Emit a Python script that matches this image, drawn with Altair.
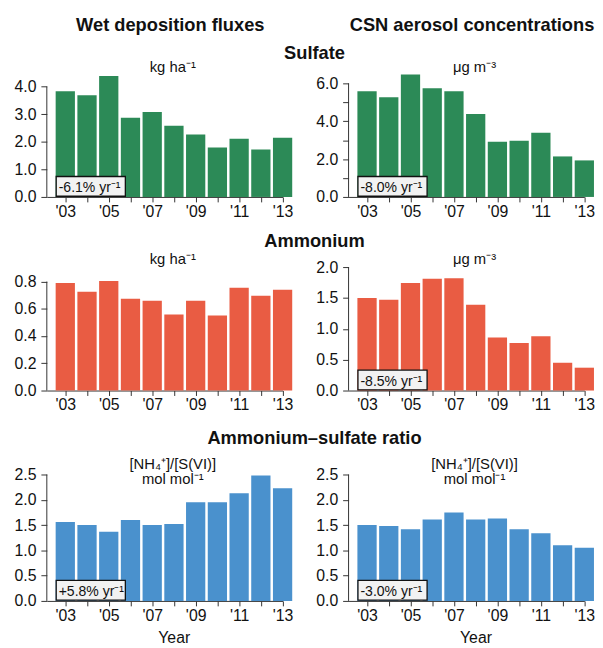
import json
import altair as alt
import pandas as pd

# ---------------- data ----------------
years = list(range(2003, 2014))
x_labels = ["'03", "", "'05", "", "'07", "", "'09", "", "'11", "", "'13"]

sulfate_wet = [3.83, 3.69, 4.38, 2.87, 3.08, 2.58, 2.26, 1.79, 2.11, 1.72, 2.15]
sulfate_csn = [5.58, 5.27, 6.47, 5.74, 5.58, 4.38, 2.92, 2.97, 3.39, 2.14, 1.93]
ammonium_wet = [0.790, 0.725, 0.805, 0.674, 0.660, 0.558, 0.660, 0.551, 0.754, 0.696, 0.740]
ammonium_csn = [1.50, 1.47, 1.74, 1.81, 1.82, 1.39, 0.86, 0.77, 0.88, 0.45, 0.37]
ratio_wet = [1.56, 1.50, 1.37, 1.60, 1.50, 1.52, 1.95, 1.95, 2.13, 2.48, 2.23]
ratio_csn = [1.50, 1.48, 1.42, 1.61, 1.75, 1.61, 1.63, 1.42, 1.34, 1.10, 1.05]

trend_labels = ["-6.1% yr\u207b\u00b9", "-8.0% yr\u207b\u00b9",
                "", "-8.5% yr\u207b\u00b9",
                "+5.8% yr\u207b\u00b9", "-3.0% yr\u207b\u00b9"]

col_headers = ["Wet deposition fluxes", "CSN aerosol concentrations"]
row_titles = ["Sulfate", "Ammonium", "Ammonium\u2013sulfate ratio"]
units = [["kg ha\u207b\u00b9"], ["\u03bcg m\u207b\u00b3"],
         ["kg ha\u207b\u00b9"], ["\u03bcg m\u207b\u00b3"],
         ["[NH\u2084\u207a]/[S(VI)]", "mol mol\u207b\u00b9"],
         ["[NH\u2084\u207a]/[S(VI)]", "mol mol\u207b\u00b9"]]

y_ticks = [[0, 1, 2, 3, 4], [0, 1, 2, 3, 4, 5, 6],
           [0, 0.2, 0.4, 0.6, 0.8], [0, 0.5, 1, 1.5, 2],
           [0, 0.5, 1, 1.5, 2, 2.5], [0, 0.5, 1, 1.5, 2, 2.5]]
y_tick_labels = [["0.0", "1.0", "2.0", "3.0", "4.0"],
                 ["0.0", "", "2.0", "", "4.0", "", "6.0"],
                 ["0.0", "0.2", "0.4", "0.6", "0.8"],
                 ["0.0", "0.5", "1.0", "1.5", "2.0"],
                 ["0.0", "0.5", "1.0", "1.5", "2.0", "2.5"],
                 ["0.0", "0.5", "1.0", "1.5", "2.0", "2.5"]]
x_label_text = "Year"

# ---------------- style ----------------
FONT = "Liberation Sans"
GREEN, RED, BLUE = "#2c8a57", "#e95c43", "#4a91cd"
AX = "#333333"
W = 238.7
ROW_H = [124, 125, 142]
YMAX = [4.44, 6.47, 0.9066, 2.0, 2.775, 2.775]
SECTION_Y = [-16, -20.7, -17]


def text_layer(txt, x, y, size, weight="normal", align="center"):
    return alt.Chart(pd.DataFrame({"t": [txt]})).mark_text(
        font=FONT, fontSize=size, fontWeight=weight, align=align,
        baseline="alphabetic", color="#111111"
    ).encode(text="t:N", x=alt.value(x), y=alt.value(y))


def panel(i, values, color):
    row, col = divmod(i, 2)
    H = ROW_H[row]
    df = pd.DataFrame({"year": years, "value": values})
    xaxis = alt.Axis(values=years, title=None, grid=False, tickSize=5, labelPadding=1.5,
                     labelFlush=False, labelOverlap=False,
                     labelExpr=json.dumps(x_labels) + "[datum.value - 2003]")
    xenc = alt.X("year:Q", scale=alt.Scale(domain=[2002.15, 2013], nice=False, zero=False,
                                           padding=0),
                 axis=xaxis)
    yscale = alt.Scale(domain=[0, YMAX[i]], nice=False, zero=True, padding=0)
    yaxis = alt.Axis(values=y_ticks[i], title=None, grid=False, domain=False, tickSize=6,
                     labelPadding=5, labelFlush=False, labelOverlap=False,
                     labelExpr=json.dumps(y_tick_labels[i]) + "[indexof("
                     + json.dumps(y_ticks[i]) + ", datum.value)]")
    bars = alt.Chart(df).mark_bar(size=19.5, color=color).encode(
        x=xenc, y=alt.Y("value:Q", scale=yscale, axis=yaxis))
    spine = alt.Chart(pd.DataFrame({"lo": [0], "hi": [y_ticks[i][-1]]})).mark_rule(
        color=AX, strokeWidth=1
    ).encode(x=alt.value(0), y=alt.Y("lo:Q", scale=yscale, axis=yaxis), y2="hi:Q")
    layers = [bars, spine]
    if trend_labels[i]:
        box = alt.Chart(pd.DataFrame({"t": [trend_labels[i]]})).mark_rect(
            fill="#f2f2f2", stroke="#111111", strokeWidth=1.3
        ).encode(x=alt.value(9.5), x2=alt.value(79.5), y=alt.value(H - 20.7), y2=alt.value(H - 0.7))
        layers += [box, text_layer(trend_labels[i], 12, H - 4.5, 14.2, align="left")]
    lines = units[i]
    if len(lines) == 1:
        layers.append(text_layer(lines[0], 127.5, -3, 15))
    else:
        layers.append(text_layer(lines[0], 127.5, 8, 15))
        layers.append(text_layer(lines[1], 127.5, 23.7, 15))
    if row == 0:
        layers.append(text_layer(col_headers[col], 125, -43.7, 18.5, weight="bold"))
    if col == 0:
        layers.append(text_layer(row_titles[row], 271, SECTION_Y[row], 18.5, weight="bold"))
    if row == 2:
        layers.append(text_layer(x_label_text, 129, H + 42.5, 16))
    return alt.layer(*layers).properties(width=W, height=H)


series = [(sulfate_wet, GREEN), (sulfate_csn, GREEN),
          (ammonium_wet, RED), (ammonium_csn, RED),
          (ratio_wet, BLUE), (ratio_csn, BLUE)]
panels = [panel(i, v, c) for i, (v, c) in enumerate(series)]

chart = alt.concat(
    *panels, columns=2, spacing={"row": 71, "column": 66.5}, bounds="flush", align="each"
).properties(
    padding={"left": 5.3, "top": 4.3, "right": 0, "bottom": 0}
).configure_view(
    stroke=None
).configure_axis(
    labelFont=FONT, labelFontSize=16, labelColor="#111111",
    tickColor=AX, domainColor=AX, domainWidth=1, tickWidth=1
)

chart.save("out.html", embed_options={"renderer": "svg", "actions": False})
